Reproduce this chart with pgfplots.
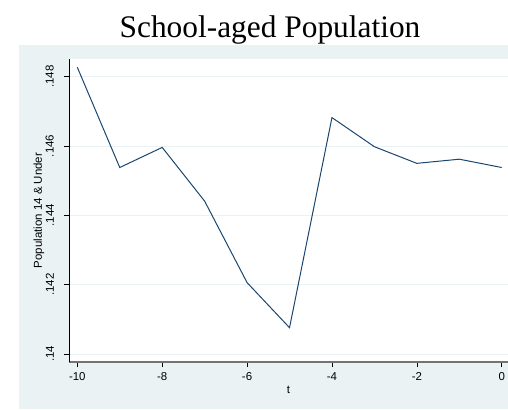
\documentclass[border=0pt]{standalone}
\usepackage{fontspec}
\setmainfont{Liberation Serif}
\newfontfamily\arial{Liberation Sans}
\usepackage{pgfplots}
\pgfplotsset{compat=1.18}

\definecolor{stbg}{HTML}{EAF2F3}
\definecolor{stnavy}{HTML}{1A476F}
\definecolor{stgrid}{HTML}{EAF2F3}

\begin{document}
\begin{tikzpicture}[x=1bp,y=1bp]
\useasboundingbox (0,0) rectangle (508,409);
\fill[stbg] (19,0) rectangle (508,364);
\node[font=\fontsize{31.5}{34}\selectfont, anchor=base] at (270,372) {School-aged Population};
\begin{axis}[
    at={(69bp,47bp)}, anchor=south west,
    width=439bp, height=303bp, scale only axis,
    xmin=-10.196, xmax=0.148,
    ymin=0.13977, ymax=0.14851,
    axis background/.style={fill=white},
    axis x line*=bottom, axis y line*=left,
    x axis line style={draw=black!55, line width=1.2bp, -},
    y axis line style={draw=black, line width=0.8bp, -},
    xtick={-10,-8,-6,-4,-2,0},
    xticklabels={-10,-8,-6,-4,-2,0},
    ytick={0.14,0.142,0.144,0.146,0.148},
    yticklabels={.14,.142,.144,.146,.148},
    tick align=outside, major tick length=5bp,
    tick style={draw=black, line width=0.7bp},
    ymajorgrids, grid style={draw=stgrid, line width=1bp},
    ticklabel style={font=\arial\fontsize{11.5}{12}\selectfont, inner sep=0pt},
    yticklabel style={xshift=-10bp, rotate=90, anchor=south},
    xticklabel style={yshift=-5.5bp, anchor=north},
    xlabel={t}, ylabel={Population 14 \& Under},
    label style={font=\arial\fontsize{11.5}{12}\selectfont},
    xlabel style={at={(axis description cs:0.5,-0.0924)}, anchor=center, inner sep=0pt},
    ylabel style={at={(axis description cs:-0.0683,0.5)}, anchor=center, rotate=0, inner sep=0pt},
    clip=false,
]
\addplot[stnavy, line width=1bp, mark=none] coordinates {
    (-10,0.14827) (-9,0.14538) (-8,0.14596) (-7,0.14441) (-6,0.14206)
    (-5,0.14076) (-4,0.14682) (-3,0.14598) (-2,0.14550) (-1,0.14562) (0,0.14538)
};
\end{axis}
\end{tikzpicture}
\end{document}
